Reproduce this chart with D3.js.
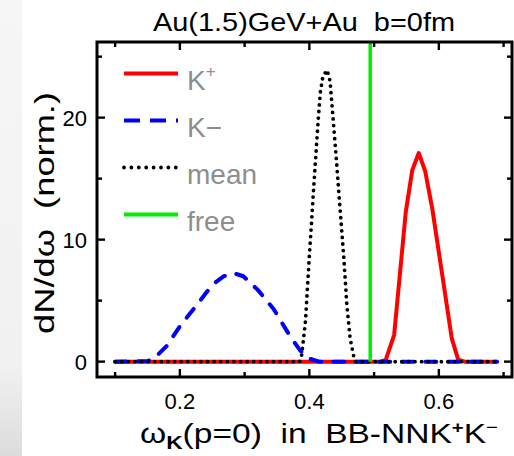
<!DOCTYPE html>
<html>
<head>
<meta charset="utf-8">
<script src="https://cdn.jsdelivr.net/npm/d3@7"></script>
<style>
  html, body { margin: 0; padding: 0; background: #fff; }
  svg { display: block; }
  text { font-family: "Liberation Sans", Arial, sans-serif; white-space: pre; }
</style>
</head>
<body>
<svg id="chart" width="514" height="456"></svg>
<script>
// Kaon in-medium energy distributions, Au(1.5 GeV)+Au at b = 0 fm
// omega (GeV) / dN/domega (normalised) vertices for each curve
const kPlus = [[0.10,0],[0.51,0],[0.518,0.15],[0.531,2.2],[0.549,12.3],[0.559,15.7],[0.569,17.1],
  [0.579,15.6],[0.590,12.5],[0.605,7.2],[0.620,1.9],[0.630,0.15],[0.64,0],[0.69,0]];
const kMinus = [[0.10,0],[0.15,0.05],[0.16,0.25],[0.18,1.3],[0.20,2.9],[0.23,4.9],[0.25,6.3],
  [0.268,7.0],[0.283,7.25],[0.298,7.0],[0.32,5.9],[0.345,4.3],[0.37,2.1],[0.386,0.9],
  [0.40,0.25],[0.415,0],[0.69,0]];
const meanField = [[0.10,0],[0.385,0],[0.388,0.5],[0.390,1.4],[0.394,3.3],[0.397,6.0],[0.400,8.7],
  [0.4035,11.5],[0.4066,14.2],[0.410,16.9],[0.4135,19.7],[0.417,22.1],[0.421,23.4],[0.4274,23.9],
  [0.432,23.0],[0.437,19.7],[0.442,16.4],[0.447,12.8],[0.453,8.7],[0.458,4.6],[0.463,1.9],
  [0.468,0.55],[0.471,0],[0.69,0]];
const freeMass = 0.494;   // free kaon mass, GeV

const xTicks = [0.1, 0.2, 0.3, 0.4, 0.5, 0.6, 0.7];
const xLabelled = [0.2, 0.4, 0.6];
const yTicks = [0, 5, 10, 15, 20, 25];
const yLabelled = [0, 10, 20];
const legendLabels = ["K+", "K−", "mean", "free"];

const svg = d3.select("#chart");
const plot = { left: 97, right: 512, top: 42, bottom: 377 };

// soft grey strip on the far left edge
const defs = svg.append("defs");
const g1 = defs.append("linearGradient").attr("id", "edge").attr("x1", 0).attr("y1", 0).attr("x2", 0).attr("y2", 1);
g1.append("stop").attr("offset", "0").attr("stop-color", "#f6f6f6");
g1.append("stop").attr("offset", "0.8").attr("stop-color", "#f1f1f1");
g1.append("stop").attr("offset", "1").attr("stop-color", "#dcdcdc");
svg.append("rect").attr("x", 0).attr("y", 0).attr("width", 22).attr("height", 456).attr("fill", "url(#edge)");

const x = d3.scaleLinear().domain([0.072, 0.713]).range([plot.left, plot.right]);
const y = d3.scaleLinear().domain([-1.26, 26.2]).range([plot.bottom, plot.top]);

const clip = defs.append("clipPath").attr("id", "plotclip");
clip.append("rect").attr("x", plot.left).attr("y", plot.top)
  .attr("width", plot.right - plot.left).attr("height", plot.bottom - plot.top);

// inward ticks on all four sides, longer where labelled
const tl = (v, set) => set.includes(v) ? 8 : 5;
const gx = svg.append("g");
xTicks.forEach(v => {
  gx.append("line").attr("x1", x(v)).attr("x2", x(v)).attr("y1", plot.bottom).attr("y2", plot.bottom - tl(v, xLabelled));
  gx.append("line").attr("x1", x(v)).attr("x2", x(v)).attr("y1", plot.top).attr("y2", plot.top + tl(v, xLabelled));
});
yTicks.forEach(v => {
  gx.append("line").attr("y1", y(v)).attr("y2", y(v)).attr("x1", plot.left).attr("x2", plot.left + tl(v, yLabelled));
  gx.append("line").attr("y1", y(v)).attr("y2", y(v)).attr("x1", plot.right).attr("x2", plot.right - tl(v, yLabelled));
});
gx.selectAll("line").attr("stroke", "#000").attr("stroke-width", 2.4);

svg.append("g").selectAll("text").data(xLabelled).join("text")
  .attr("x", d => x(d)).attr("y", 409).attr("text-anchor", "middle")
  .attr("font-size", 22).attr("fill", "#000").text(d3.format(".1f"));
svg.append("g").selectAll("text").data(yLabelled).join("text")
  .attr("x", 87).attr("y", d => y(d) + 8).attr("text-anchor", "end")
  .attr("font-size", 22).attr("fill", "#000").text(d => d);

// curves
const line = d3.line().x(d => x(d[0])).y(d => y(d[1]));
const curves = svg.append("g").attr("clip-path", "url(#plotclip)");
curves.append("path").datum(kPlus).attr("d", line).attr("fill", "none")
  .attr("stroke", "#ff0000").attr("stroke-width", 4).attr("stroke-linejoin", "round");
curves.append("path").datum(kMinus).attr("d", line).attr("fill", "none")
  .attr("stroke", "#0000ff").attr("stroke-width", 4).attr("stroke-dasharray", "11 12")
  .attr("stroke-linecap", "round").attr("stroke-linejoin", "round");
curves.append("path").datum(meanField).attr("d", line).attr("fill", "none")
  .attr("stroke", "#000").attr("stroke-width", 3.8).attr("stroke-dasharray", "0 6.6")
  .attr("stroke-linecap", "round");
curves.append("line").attr("x1", x(freeMass)).attr("x2", x(freeMass))
  .attr("y1", y(0)).attr("y2", y(26.2)).attr("stroke", "#00ee00").attr("stroke-width", 3.5);

// frame
svg.append("rect").attr("x", plot.left).attr("y", plot.top)
  .attr("width", plot.right - plot.left).attr("height", plot.bottom - plot.top)
  .attr("fill", "none").attr("stroke", "#000").attr("stroke-width", 3);

// legend
const legendStyles = [
  { stroke: "#ff0000", dash: null, cap: "butt", w: 4 },
  { stroke: "#0000ff", dash: "16 10", cap: "butt", w: 4 },
  { stroke: "#000", dash: "0 7.4", cap: "round", w: 3.8 },
  { stroke: "#00ee00", dash: null, cap: "butt", w: 4 }
];
const legend = svg.append("g");
legendLabels.forEach((lab, i) => {
  const ly = 73.5 + i * 47;
  const s = legendStyles[i];
  legend.append("line").attr("x1", 124).attr("x2", 178).attr("y1", ly).attr("y2", ly)
    .attr("stroke", s.stroke).attr("stroke-width", s.w)
    .attr("stroke-dasharray", s.dash).attr("stroke-linecap", s.cap);
  const t = legend.append("text").attr("x", 187).attr("y", ly + 16)
    .attr("font-size", 28).attr("fill", "#8e8e8e");
  if (lab === "K+") {
    t.append("tspan").text("K");
    t.append("tspan").attr("font-size", 17).attr("dy", -13).text("+");
  } else {
    t.text(lab);
  }
});

// title
svg.append("text").attr("x", 304).attr("y", 31).attr("text-anchor", "middle")
  .attr("font-size", 25).attr("fill", "#000")
  .attr("textLength", 302).attr("lengthAdjust", "spacingAndGlyphs")
  .text("Au(1.5)GeV+Au  b=0fm");

// axis titles
const xt = svg.append("text").attr("x", 140).attr("y", 443).attr("font-size", 28).attr("fill", "#000")
  .attr("textLength", 358).attr("lengthAdjust", "spacingAndGlyphs");
xt.append("tspan").text("ω");
xt.append("tspan").attr("font-size", 19).attr("font-weight", "bold").attr("dy", 6).text("K");
xt.append("tspan").attr("dy", -6).text("(p=0)  in  BB-NNK");
xt.append("tspan").attr("font-size", 17).attr("font-weight", "bold").attr("dy", -10).text("+");
xt.append("tspan").attr("dy", 10).text("K");
xt.append("tspan").attr("font-size", 17).attr("dy", -10).text("−");

svg.append("text").attr("transform", "translate(54,213) rotate(-90)")
  .attr("text-anchor", "middle").attr("font-size", 28).attr("fill", "#000")
  .attr("textLength", 242).attr("lengthAdjust", "spacingAndGlyphs")
  .text("dN/dω  (norm.)");
</script>
</body>
</html>
